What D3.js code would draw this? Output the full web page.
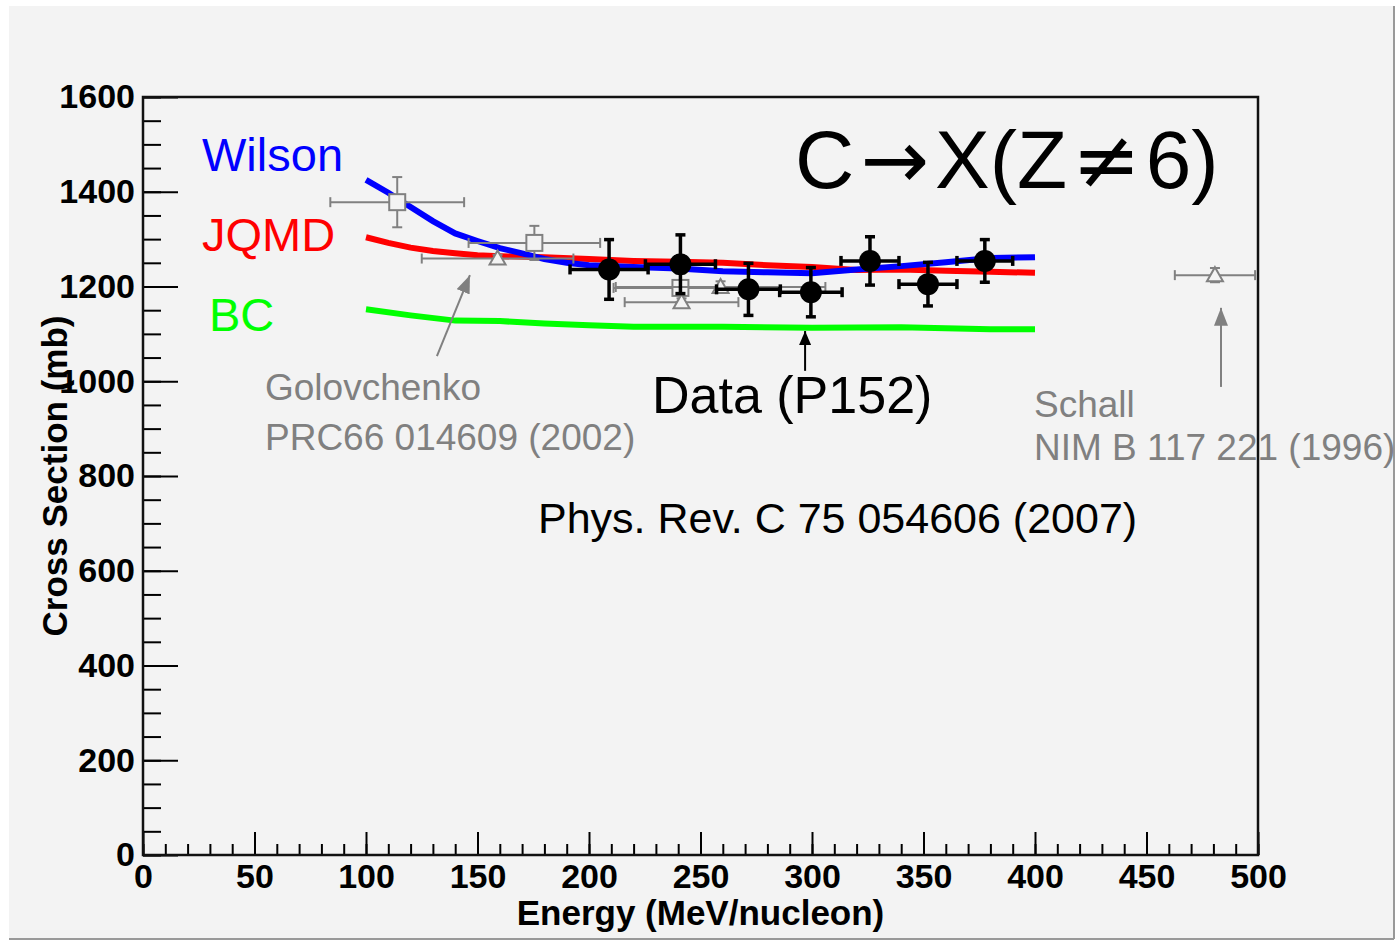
<!DOCTYPE html>
<html>
<head>
<meta charset="utf-8">
<script src="https://cdn.jsdelivr.net/npm/d3@7"></script>
<style>
  html, body { margin: 0; padding: 0; background: #fff; }
  svg { display: block; font-family: "Liberation Sans", Arial, sans-serif; }
</style>
</head>
<body>
<svg id="chart" width="1397" height="942"></svg>
<script>
// ---- data ----
const xTicks = [0, 50, 100, 150, 200, 250, 300, 350, 400, 450, 500];
const yTicks = [0, 200, 400, 600, 800, 1000, 1200, 1400, 1600];

// P152 measurement (black points)
const dataE    = [209, 241, 271.5, 299.5, 326, 352, 377.5];
const dataSig  = [1236, 1247, 1194, 1188, 1254, 1205, 1254];
const dataEErr = [17.5, 15.7, 14.3, 14, 13, 13, 12.5];
const dataSErr = [63, 62, 55, 52, 51, 46, 45];

// Golovchenko PRC66 (gray squares / triangles)
const goloSqE    = [114, 175.5, 241];
const goloSqSig  = [1378, 1292, 1197];
const goloSqEErr = [30, 29.5, 30];
const goloSqSErr = [53, 36, 30];
const goloTrE    = [159, 241.5, 259];
const goloTrSig  = [1259, 1167, 1199];
const goloTrEErr = [34, 25.5, 47];
const goloTrSErr = [8, 8, 12];

// Schall NIM B (gray triangle)
const schallE = [480.7], schallSig = [1224], schallEErr = [18], schallSErr = [15];

// model curves
const wilsonE   = [100, 110, 120, 130, 140, 150, 160, 170, 180, 190, 200, 220, 240, 260, 280, 300, 320, 340, 360, 380, 400];
const wilsonSig = [1425, 1398, 1368, 1338, 1312, 1296, 1281, 1270, 1258, 1250, 1245, 1241, 1238, 1232, 1230, 1228, 1236, 1243, 1251, 1260, 1262];
const jqmdE     = [100, 110, 120, 130, 140, 150, 160, 180, 200, 220, 240, 260, 280, 300, 320, 340, 360, 380, 400];
const jqmdSig   = [1304, 1292, 1282, 1275, 1270, 1266, 1264, 1262, 1258, 1254, 1252, 1250, 1245, 1241, 1235, 1236, 1233, 1231, 1229];
const bcE       = [100, 120, 140, 160, 180, 200, 220, 260, 300, 340, 360, 380, 400];
const bcSig     = [1152, 1139, 1128, 1127, 1122, 1118, 1115, 1115, 1113, 1114, 1112, 1110, 1110];

const svg = d3.select('#chart');
const gray = '#808080';

// canvas background
svg.append('rect').attr('x', 9).attr('y', 6).attr('width', 1385).attr('height', 933)
    .attr('fill', '#f3f3f3');
svg.append('line').attr('x1', 1394).attr('x2', 1394).attr('y1', 6).attr('y2', 939)
    .attr('stroke', '#999').attr('stroke-width', 2);
svg.append('line').attr('x1', 9).attr('x2', 1394).attr('y1', 939).attr('y2', 939)
    .attr('stroke', '#999').attr('stroke-width', 2);

const x = d3.scaleLinear().domain([0, 500]).range([143, 1258]);
const y = d3.scaleLinear().domain([0, 1600]).range([855, 97]);

// arrow heads
const defs = svg.append('defs');
function marker(id, color, w, h) {
    defs.append('marker').attr('id', id)
        .attr('viewBox', `0 0 ${w} ${h}`).attr('refX', w).attr('refY', h / 2)
        .attr('markerWidth', w).attr('markerHeight', h)
        .attr('markerUnits', 'userSpaceOnUse').attr('orient', 'auto')
        .append('path').attr('d', `M0,0L${w},${h / 2}L0,${h}Z`).attr('fill', color);
}
marker('ah-gray', gray, 18, 14);
marker('ah-black', '#000', 14, 12);

// axes: minor + major ticks pointing inward
const tickFont = g => g.selectAll('text')
    .style('font-size', '34px').style('font-weight', 'bold').attr('fill', '#000');

svg.append('g').attr('transform', `translate(0,${y(0)})`)
    .call(d3.axisBottom(x).tickValues(d3.range(0, 501, 10)).tickSize(-11).tickFormat(''))
    .call(g => g.select('.domain').remove())
    .call(g => g.selectAll('line').attr('stroke', '#000').attr('stroke-width', 2));
svg.append('g').attr('transform', `translate(0,${y(0)})`)
    .call(d3.axisBottom(x).tickValues(xTicks).tickSize(-23).tickPadding(9).tickFormat(d3.format('d')))
    .call(g => g.select('.domain').remove())
    .call(g => g.selectAll('line').attr('stroke', '#000').attr('stroke-width', 2))
    .call(tickFont);

svg.append('g').attr('transform', `translate(${x(0)},0)`)
    .call(d3.axisLeft(y).tickValues(d3.range(0, 1601, 50)).tickSize(-18).tickFormat(''))
    .call(g => g.select('.domain').remove())
    .call(g => g.selectAll('line').attr('stroke', '#000').attr('stroke-width', 2));
svg.append('g').attr('transform', `translate(${x(0)},0)`)
    .call(d3.axisLeft(y).tickValues(yTicks).tickSize(-35).tickPadding(8).tickFormat(d3.format('d')))
    .call(g => g.select('.domain').remove())
    .call(g => g.selectAll('line').attr('stroke', '#000').attr('stroke-width', 2))
    .call(tickFont);

// frame
svg.append('rect').attr('x', x(0)).attr('y', y(1600))
    .attr('width', x(500) - x(0)).attr('height', y(0) - y(1600))
    .attr('fill', 'none').attr('stroke', '#111').attr('stroke-width', 2.5);

// axis titles
svg.append('text').attr('x', (x(0) + x(500)) / 2).attr('y', 925)
    .attr('text-anchor', 'middle').style('font-size', '35px').style('font-weight', 'bold')
    .text('Energy (MeV/nucleon)');
svg.append('text').attr('transform', `translate(67,${(y(0) + y(1600)) / 2}) rotate(-90)`)
    .attr('text-anchor', 'middle').style('font-size', '35px').style('font-weight', 'bold')
    .text('Cross Section (mb)');

// model curves
const line = d3.line().x(d => x(d[0])).y(d => y(d[1]));
[[bcE, bcSig, '#00ff00'], [jqmdE, jqmdSig, '#ff0000'], [wilsonE, wilsonSig, '#0000ff']]
    .forEach(([es, ss, col]) => {
        svg.append('path').datum(d3.zip(es, ss))
            .attr('d', line).attr('fill', 'none').attr('stroke', col).attr('stroke-width', 6);
    });

// error bars with end caps
function errBars(es, ss, ex, ey, color, width, cap) {
    const pts = es.map((e, i) => ({ e, s: ss[i], ex: ex[i], ey: ey[i] }));
    const g = svg.append('g').attr('stroke', color).attr('stroke-width', width);
    pts.forEach(p => {
        g.append('line').attr('x1', x(p.e - p.ex)).attr('x2', x(p.e + p.ex)).attr('y1', y(p.s)).attr('y2', y(p.s));
        g.append('line').attr('x1', x(p.e)).attr('x2', x(p.e)).attr('y1', y(p.s - p.ey)).attr('y2', y(p.s + p.ey));
        [p.e - p.ex, p.e + p.ex].forEach(v => g.append('line')
            .attr('x1', x(v)).attr('x2', x(v)).attr('y1', y(p.s) - cap).attr('y2', y(p.s) + cap));
        [p.s - p.ey, p.s + p.ey].forEach(v => g.append('line')
            .attr('x1', x(p.e) - cap).attr('x2', x(p.e) + cap).attr('y1', y(v)).attr('y2', y(v)));
    });
    return pts;
}

// gray reference data
const sq = errBars(goloSqE, goloSqSig, goloSqEErr, goloSqSErr, gray, 2, 5);
svg.append('g').selectAll('rect').data(sq).join('rect')
    .attr('x', d => x(d.e) - 8).attr('y', d => y(d.s) - 8).attr('width', 16).attr('height', 16)
    .attr('fill', '#f3f3f3').attr('stroke', gray).attr('stroke-width', 2);
const triPath = d => `M${x(d.e)},${y(d.s) - 8}L${x(d.e) + 8},${y(d.s) + 6}L${x(d.e) - 8},${y(d.s) + 6}Z`;
const tr = errBars(goloTrE, goloTrSig, goloTrEErr, goloTrSErr, gray, 2, 5);
svg.append('g').selectAll('path').data(tr).join('path')
    .attr('d', triPath).attr('fill', '#f3f3f3').attr('stroke', gray).attr('stroke-width', 2);
const sc = errBars(schallE, schallSig, schallEErr, schallSErr, gray, 2, 5);
svg.append('g').selectAll('path').data(sc).join('path')
    .attr('d', triPath).attr('fill', '#f3f3f3').attr('stroke', gray).attr('stroke-width', 2);

// P152 data
const dp = errBars(dataE, dataSig, dataEErr, dataSErr, '#000', 3.5, 5);
svg.append('g').selectAll('circle').data(dp).join('circle')
    .attr('cx', d => x(d.e)).attr('cy', d => y(d.s)).attr('r', 11).attr('fill', '#000');

// labels
function label(tx, ty, size, color, str) {
    return svg.append('text').attr('x', tx).attr('y', ty).style('font-size', size + 'px')
        .attr('fill', color).text(str);
}
label(202, 171, 47, '#0000ff', 'Wilson');
label(202, 251, 47, '#ff0000', 'JQMD');
label(209, 331, 47, '#00ff00', 'BC');
label(652, 413, 52, '#000', 'Data (P152)');
label(538, 533, 43, '#000', 'Phys. Rev. C 75 054606 (2007)');
label(265, 400, 37, gray, 'Golovchenko');
label(265, 450, 37, gray, 'PRC66 014609 (2002)');
label(1034, 417, 37, gray, 'Schall');
label(1034, 460, 37, gray, 'NIM B 117 221 (1996)');

// title with symbol glyphs
const title = svg.append('text').attr('x', 795).attr('y', 188).style('font-size', '82px').attr('fill', '#000');
title.append('tspan').text('C');
title.append('tspan').attr('dx', 6).style('font-family', '"DejaVu Sans"').text('\u2192');
title.append('tspan').attr('dx', 6).text('X(Z');
title.append('tspan').attr('dx', 5).style('font-family', '"DejaVu Sans"').text('\u2260');
title.append('tspan').attr('dx', 5).text('6)');

// annotation arrows (data coordinates)
const arrows = [
    [131.8, 1053, 146.6, 1224, gray, 2, 'ah-gray'],
    [483.4, 988, 483.4, 1155, gray, 2, 'ah-gray'],
    [296.9, 1022, 296.9, 1106, '#000', 2, 'ah-black']
];
arrows.forEach(([e1, s1, e2, s2, col, w, m]) => {
    svg.append('line').attr('x1', x(e1)).attr('y1', y(s1)).attr('x2', x(e2)).attr('y2', y(s2))
        .attr('stroke', col).attr('stroke-width', w).attr('marker-end', `url(#${m})`);
});
</script>
</body>
</html>
